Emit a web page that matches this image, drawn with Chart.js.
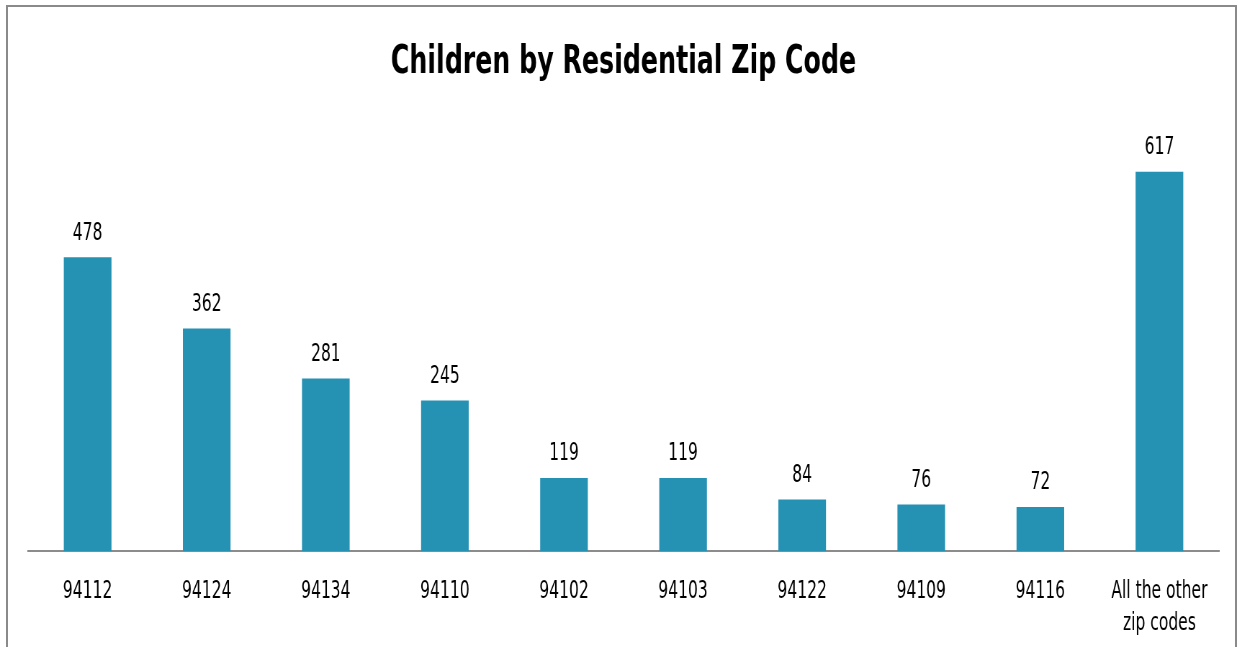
<!DOCTYPE html>
<html>
<head>
<meta charset="utf-8">
<script src="https://cdn.jsdelivr.net/npm/chart.js@4.4.1/dist/chart.umd.min.js"></script>
<style>
  html, body { margin: 0; padding: 0; background: #fff; overflow: hidden; width: 1244px; height: 647px; }
  #frame { position: absolute; left: 6px; top: 5px; width: 1231px; height: 700px;
           border: 2px solid #8a8a8a; border-bottom: none; box-sizing: border-box; }
  #wrap { position: absolute; left: 0; top: 0; width: 1728px; height: 667px;
          transform: scaleX(0.72); transform-origin: 0 0; }
  #c { width: 1728px; height: 667px; display: block; }
</style>
</head>
<body>
<div id="frame"></div>
<div id="wrap"><canvas id="c" width="1728" height="667"></canvas></div>
<script>
const titleText = "Children by Residential Zip Code";
const categories = ["94112", "94124", "94134", "94110", "94102", "94103", "94122", "94109", "94116", ["All the other", "zip codes"]];
const children = [478, 362, 281, 245, 119, 119, 84, 76, 72, 617];
const yMax = 700;

const FONT = "'DejaVu Sans Condensed', 'Liberation Sans Narrow', 'Open Sans', sans-serif";

const valueLabels = {
  id: 'valueLabels',
  afterDatasetsDraw(chart) {
    const ctx = chart.ctx;
    const meta = chart.getDatasetMeta(0);
    ctx.save();
    ctx.fillStyle = '#000';
    ctx.font = "24px " + FONT;
    ctx.textAlign = 'center';
    ctx.textBaseline = 'middle';
    meta.data.forEach((bar, i) => {
      ctx.fillText(String(children[i]), bar.x, bar.y - 24);
    });
    ctx.restore();
  }
};

new Chart(document.getElementById('c'), {
  type: 'bar',
  data: {
    labels: categories,
    datasets: [{
      data: children,
      backgroundColor: '#2591b3',
      borderWidth: 0,
      categoryPercentage: 1.0,
      barPercentage: 0.4
    }]
  },
  options: {
    responsive: false,
    animation: false,
    devicePixelRatio: 1,
    layout: { padding: { left: 39, right: 35, top: 0, bottom: 2 } },
    plugins: {
      legend: { display: false },
      tooltip: { enabled: false },
      title: {
        display: true,
        text: titleText,
        color: '#000',
        font: { family: FONT, size: 39, weight: 'bold' },
        padding: { top: 39, bottom: 35 }
      }
    },
    scales: {
      x: {
        grid: { display: false, drawTicks: false },
        border: { display: true, color: '#8c8c8c', width: 2 },
        ticks: {
          color: '#000',
          font: { family: FONT, size: 24, lineHeight: 1.33 },
          padding: 25,
          maxRotation: 0,
          autoSkip: false
        }
      },
      y: {
        display: false,
        min: 0,
        max: yMax
      }
    }
  },
  plugins: [valueLabels]
});
</script>
</body>
</html>
